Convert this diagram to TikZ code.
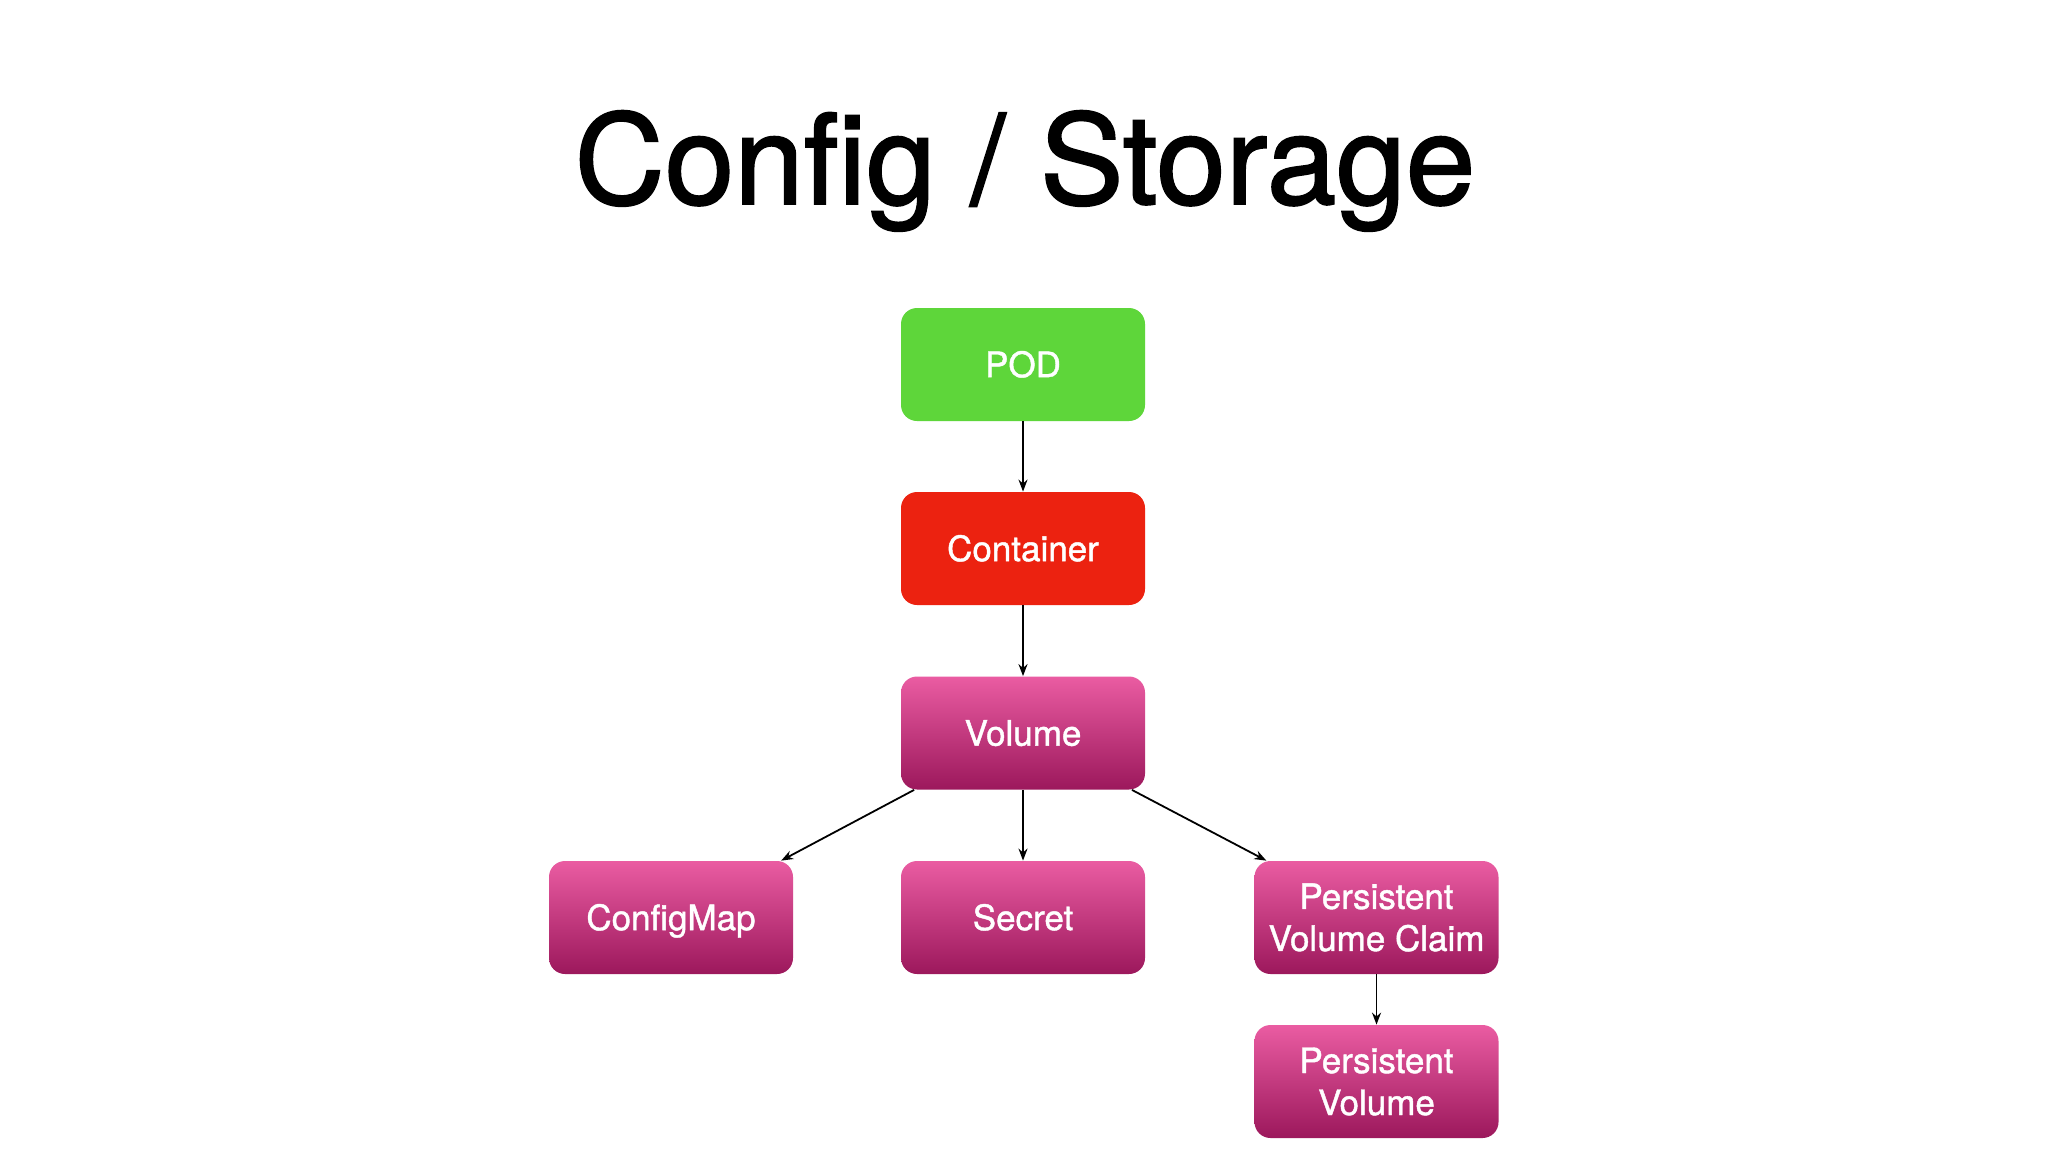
\documentclass[tikz,border=0pt]{standalone}
\usepackage{fontspec}
\setmainfont{TeX Gyre Heros}
\newfontfamily\boxfont[FakeBold=1.2]{TeX Gyre Heros}
\newfontfamily\titlefont[FakeBold=1.5]{TeX Gyre Heros}
\usetikzlibrary{arrows.meta,calc}
\definecolor{podgreen}{RGB}{94,214,58}
\definecolor{contred}{RGB}{236,34,16}
\definecolor{pinktop}{RGB}{234,92,162}
\definecolor{pinkbot}{RGB}{156,24,92}
\tikzset{
  box/.style={rounded corners=8pt, minimum width=122pt, minimum height=56.5pt,
    text=white, font=\boxfont\fontsize{17.5}{21}\selectfont, align=center, inner sep=0pt},
  oneline/.style={text height=12.6pt, text depth=0pt},
  greenbox/.style={box, oneline, fill=podgreen},
  redbox/.style={box, oneline, fill=contred},
  pinkbox/.style={box, top color=pinktop, bottom color=pinkbot},
  conn/.style={line width=0.9pt, -{Stealth[length=6pt,width=4.5pt]}},
}
\begin{document}
\begin{tikzpicture}[x=0.5pt,y=-0.5pt]
\useasboundingbox[fill=white] (0,0) rectangle (2048,1152);
\node[anchor=base, font=\titlefont\fontsize{62.5}{70}\selectfont] (title) at (1025,204) {Config / Storage};
\node[greenbox] (pod) at (1023,364.5) {POD};
\node[redbox] (cont) at (1023,548.5) {Container};
\node[pinkbox, oneline] (vol) at (1023,733) {Volume};
\node[pinkbox, oneline] (cm) at (671,917.5) {ConfigMap};
\node[pinkbox, oneline] (sec) at (1023,917.5) {Secret};
\node[pinkbox] (pvc) at (1376.5,917.5) {Persistent\\Volume Claim};
\node[pinkbox] (pv) at (1376.5,1081.5) {Persistent\\Volume};
\draw[conn] (pod) -- (cont);
\draw[conn] (cont) -- (vol);
\draw[conn] (vol) -- (sec);
\draw[conn] (pvc) -- (pv);
\draw[conn] ($(vol.south west)!0.055!(vol.south east)$) -- ($(cm.north east)!0.05!(cm.north west)$);
\draw[conn] ($(vol.south east)!0.055!(vol.south west)$) -- ($(pvc.north west)!0.05!(pvc.north east)$);
\end{tikzpicture}
\end{document}
